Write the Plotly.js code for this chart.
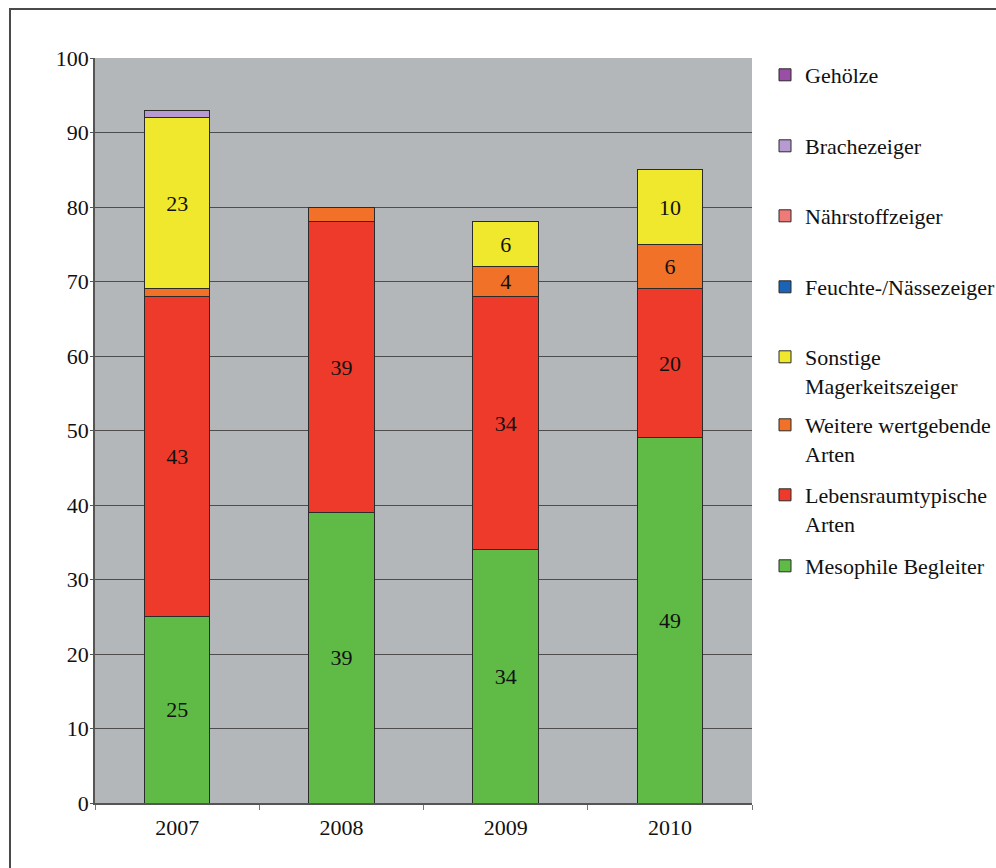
<!DOCTYPE html>
<html>
<head>
<meta charset="utf-8">
<script src="https://cdn.plot.ly/plotly-3.0.1.min.js"></script>
<style>
  html, body { margin: 0; padding: 0; background: #fff; overflow: hidden; }
  #wrap { position: relative; width: 996px; height: 868px; }
  #chart { position: absolute; left: 0; top: 0; width: 996px; height: 868px; }
  #frame { position: absolute; left: 9px; top: 8px; width: 1200px; height: 1200px;
           border-left: 2px solid #4a4a4a; border-top: 2px solid #4a4a4a; pointer-events: none; }
</style>
</head>
<body>
<div id="wrap">
  <div id="chart"></div>
  <div id="frame"></div>
</div>
<script>
// Survey years
const years = ['2007', '2008', '2009', '2010'];

// Number of species per group and year (stacked from bottom to top)
const mesophileBegleiter = [25, 39, 34, 49];
const lebensraumtypische = [43, 39, 34, 20];
const weitereWertgebende = [1, 2, 4, 6];
const sonstigeMagerkeit = [23, 0, 6, 10];
const feuchteNaesse = [0, 0, 0, 0];
const naehrstoffzeiger = [0, 0, 0, 0];
const brachezeiger = [1, 0, 0, 0];
const gehoelze = [0, 0, 0, 0];

// Legend labels
const labels = {
  meso: 'Mesophile Begleiter',
  lebens: 'Lebensraumtypische<br>Arten',
  weitere: 'Weitere wertgebende<br>Arten',
  sonstige: 'Sonstige<br>Magerkeitszeiger',
  feuchte: 'Feuchte-/Nässezeiger',
  naehr: 'Nährstoffzeiger',
  brache: 'Brachezeiger',
  gehoelze: 'Gehölze'
};

const FONT = 'Liberation Serif, Times New Roman, serif';
const FS = 22;

// Only segments tall enough carry a value label
function segLabels(vals) {
  return vals.map(v => (v >= 3 ? String(v) : ''));
}

function barTrace(vals, name, color, legendId) {
  return {
    type: 'bar',
    x: years,
    y: vals,
    name: name,
    width: 0.4,
    marker: { color: color, line: { color: '#2b2b2b', width: 1 } },
    text: segLabels(vals),
    textposition: 'inside',
    insidetextanchor: 'middle',
    textangle: 0,
    constraintext: 'none',
    insidetextfont: { family: FONT, size: FS, color: '#111' },
    hoverinfo: 'x+y+name',
    legend: legendId
  };
}

const traces = [
  barTrace(mesophileBegleiter, labels.meso, '#5fbb46', 'legend8'),
  barTrace(lebensraumtypische, labels.lebens, '#ee3a2a', 'legend7'),
  barTrace(weitereWertgebende, labels.weitere, '#f07127', 'legend6'),
  barTrace(sonstigeMagerkeit, labels.sonstige, '#efe82c', 'legend5'),
  barTrace(feuchteNaesse, labels.feuchte, '#1b63b5', 'legend4'),
  barTrace(naehrstoffzeiger, labels.naehr, '#f07a78', 'legend3'),
  barTrace(brachezeiger, labels.brache, '#b89ad2', 'legend2'),
  barTrace(gehoelze, labels.gehoelze, '#9b4ea6', 'legend')
];

// Plot area in pixels
const L = 95, R = 752, T = 58, B = 803;
const plotH = B - T, plotW = R - L;

// Legend entries: first-line centre (px) for each legend box
const legendRows = [75, 146, 216, 287, 357, 425, 495, 566];
const legendIds = ['legend', 'legend2', 'legend3', 'legend4', 'legend5', 'legend6', 'legend7', 'legend8'];

const layout = {
  width: 996,
  height: 868,
  margin: { l: L, r: 996 - R, t: T, b: 868 - B, autoexpand: false },
  paper_bgcolor: '#ffffff',
  plot_bgcolor: '#b4b7b9',
  barmode: 'stack',
  bargap: 0.6,
  showlegend: true,
  font: { family: FONT, size: FS, color: '#111' },
  xaxis: {
    type: 'category',
    showgrid: false,
    showline: true,
    linecolor: '#555',
    linewidth: 1.5,
    ticks: 'outside',
    tickson: 'boundaries',
    ticklen: 5,
    tickcolor: '#777',
    ticklabelstandoff: 4,
    tickfont: { family: FONT, size: FS, color: '#111' },
    automargin: false,
    fixedrange: true
  },
  yaxis: {
    range: [0, 100],
    dtick: 10,
    tick0: 0,
    showgrid: true,
    gridcolor: '#4d4d4d',
    gridwidth: 1,
    zeroline: false,
    showline: true,
    linecolor: '#555',
    linewidth: 1.5,
    ticks: 'outside',
    ticklen: 3,
    tickcolor: '#555',
    ticklabelstandoff: -3,
    tickfont: { family: FONT, size: FS, color: '#111' },
    automargin: false,
    fixedrange: true
  }
};

legendIds.forEach((id, i) => {
  layout[id] = {
    x: (765 - L) / plotW,
    xanchor: 'left',
    y: (B - (legendRows[i] - 21)) / plotH,
    yanchor: 'top',
    valign: 'top',
    bgcolor: 'rgba(0,0,0,0)',
    borderwidth: 0,
    font: { family: FONT, size: FS, color: '#111' },
    itemclick: false,
    itemdoubleclick: false
  };
});

Plotly.newPlot('chart', traces, layout, { displayModeBar: false });
</script>
</body>
</html>
